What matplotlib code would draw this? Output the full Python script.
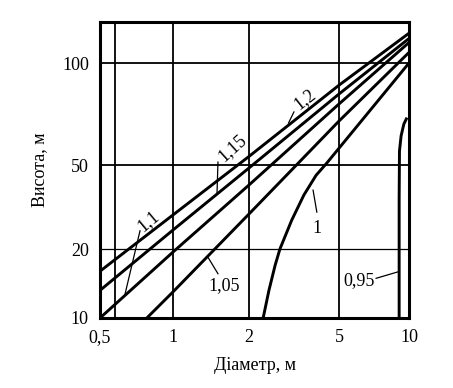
import matplotlib
matplotlib.use("Agg")
import matplotlib.pyplot as plt
import numpy as np

# curves: height (m) vs diameter (m) for each coefficient
d_12 = [0.5, 1, 2, 5, 10]
h_12 = [16, 29, 53, 86, 121]
d_115 = [0.5, 1, 2, 5, 10]
h_115 = [13.2, 24.6, 48.4, 81, 117]
d_11 = [0.5, 1, 2, 5, 10]
h_11 = [10, 19.4, 40.2, 75.7, 114]
d_105 = [0.78, 1, 2, 5, 10]
h_105 = [10, 13, 29.3, 67.4, 107]
d_1 = [2.31, 2.45, 2.61, 2.74, 3.09, 3.50, 3.96, 4.42, 10]
h_1 = [10, 13.2, 17.0, 20, 27.4, 36.1, 44.7, 50.7, 100]
d_095 = [9.07, 9.07, 9.1, 9.25, 9.5, 9.8]
h_095 = [10, 34, 55, 61, 66, 69]

x_ticks = [0.5, 1, 2, 5, 10]
x_labels = ["0,5", "1", "2", "5", "10"]
y_ticks = [10, 20, 50, 100]
y_labels = ["10", "20", "50", "100"]

# the printed log grid is not evenly spaced, so map it piece by piece
x_knots = [0.5, 1, 2, 5, 10]
x_spacing = [0, 73, 149, 239, 309]
y_knots = [10, 20, 50, 100, 130]
y_spacing = [0, 69, 153, 255, 296]


def make_scale(knots, spacing):
    lk = np.log10(knots)

    def fwd(v):
        return np.interp(np.log10(np.clip(v, 1e-6, None)), lk, spacing)

    def inv(p):
        return 10 ** np.interp(p, spacing, lk)
    return fwd, inv


plt.rcParams["font.family"] = ["Liberation Serif", "DejaVu Serif"]
plt.rcParams["font.size"] = 13

fig = plt.figure(figsize=(4.53, 3.88), dpi=100)
ax = fig.add_axes([100 / 453, 1 - 318 / 388, 309 / 453, 296 / 388])
ax.set_xscale("function", functions=make_scale(x_knots, x_spacing))
ax.set_yscale("function", functions=make_scale(y_knots, y_spacing))
ax.set_xlim(0.5, 10)
ax.set_ylim(10, 130)

for v in [0.577, 1, 2, 5]:
    ax.axvline(v, color="black", lw=1.3, zorder=1)
for v in y_ticks[1:]:
    ax.axhline(v, color="black", lw=1.3 if v > 20 else 0.9, zorder=1)

for d, h in [(d_12, h_12), (d_115, h_115), (d_11, h_11), (d_105, h_105),
             (d_1, h_1), (d_095, h_095)]:
    ax.plot(d, h, color="black", lw=2.1, zorder=3, clip_on=False,
            solid_capstyle="butt", solid_joinstyle="round")

# labels and leader lines
labels = [
    ("1,2", 3.54, 78.3, 38, (3.16, 2.99), (71.7, 66.5)),
    ("1,15", 1.713, 56.1, 42, (1.507, 1.494), (51.0, 36.8)),
    ("1,1", 0.788, 27.1, 40, (0.731, 0.634), (24.4, 12.7)),
    ("1,05", 1.593, 13.9, 0, (1.376, 1.507), (18.4, 15.6)),
    ("1", 3.99, 25.0, 0, (3.84, 3.99), (38.0, 29.9)),
    ("0,95", 6.09, 14.6, 0, (7.22, 8.97), (14.9, 15.9)),
]
for txt, tx, ty, rot, lx, ly in labels:
    ax.text(tx, ty, txt, ha="center", va="center", rotation=rot,
            rotation_mode="anchor", zorder=4)
    ax.plot(lx, ly, color="black", lw=0.9, zorder=4)

ax.set_xticks(x_ticks)
ax.set_xticklabels(x_labels)
ax.set_yticks(y_ticks)
ax.set_yticklabels(y_labels)
ax.minorticks_off()
ax.tick_params(length=0, pad=8)
for s in ax.spines.values():
    s.set_linewidth(2.2)

ax.set_xlabel("Діаметр, м", labelpad=8)
ax.set_ylabel("Висота, м", labelpad=10)

fig.savefig("out.png", dpi=100)
